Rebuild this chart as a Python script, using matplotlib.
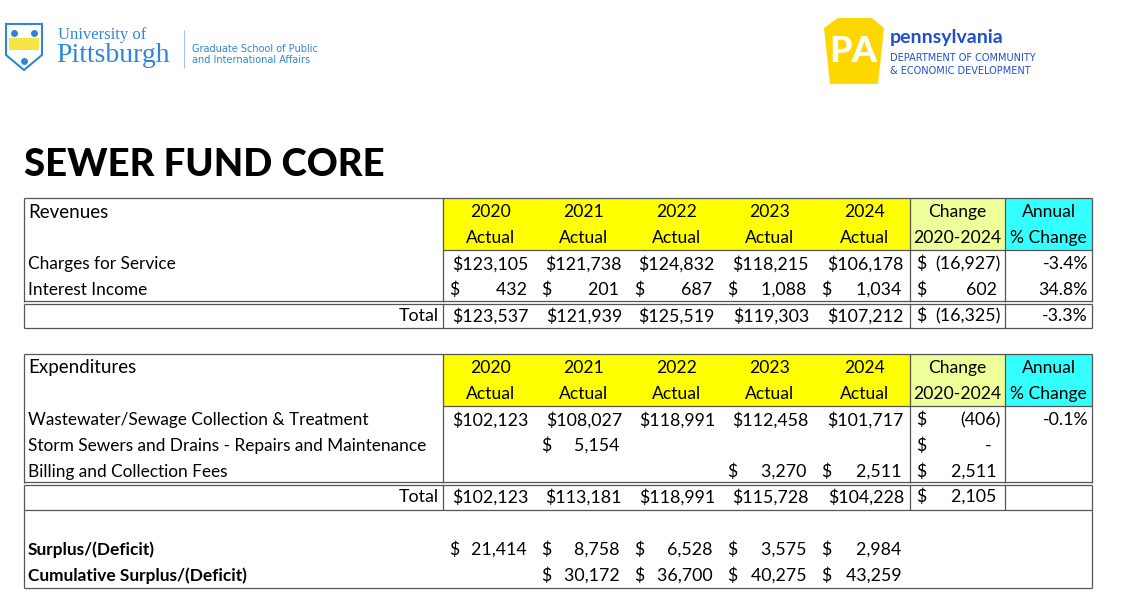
import matplotlib.pyplot as plt
from matplotlib.patches import Rectangle, Polygon

# ======================================
# DATA
# ======================================
years = ["2020", "2021", "2022", "2023", "2024"]

rev_labels = ["Charges for Service", "Interest Income"]
rev_values = [
    [123105, 121738, 124832, 118215, 106178],
    [432, 201, 687, 1088, 1034],
]
rev_change = [-16927, 602]
rev_pct = ["-3.4%", "34.8%"]
rev_total = [123537, 121939, 125519, 119303, 107212]
rev_total_change = -16325
rev_total_pct = "-3.3%"

exp_labels = [
    "Wastewater/Sewage Collection & Treatment",
    "Storm Sewers and Drains - Repairs and Maintenance",
    "Billing and Collection Fees",
]
exp_values = [
    [102123, 108027, 118991, 112458, 101717],
    [None, 5154, None, None, None],
    [None, None, None, 3270, 2511],
]
exp_change = [-406, 0, 2511]
exp_pct = ["-0.1%", "", ""]
exp_total = [102123, 113181, 118991, 115728, 104228]
exp_total_change = 2105

surplus = [21414, 8758, 6528, 3575, 2984]
cumulative = [None, 30172, 36700, 40275, 43259]

# ======================================
# LAYOUT (pixel coordinates)
# ======================================
W, H = 1136, 612
fig = plt.figure(figsize=(W / 100, H / 100), dpi=100)
ax = fig.add_axes([0, 0, 1, 1])
ax.set_xlim(0, W)
ax.set_ylim(H, 0)
ax.axis("off")

FONT = "Lato"
FS = 12.8
LFS = 12.4
HFS = 12.6
cols = [24, 443, 535, 628, 721, 815, 910, 1005, 1092]
YELLOW = "#ffff00"
LIME = "#eeff99"
CYAN = "#33ffff"


def line(x0, x1, y0, y1, lw=0.9, c="#555555"):
    ax.plot([x0, x1], [y0, y1], color=c, lw=lw, solid_capstyle="butt")


def money(v, x0, x1, y, tight=False, zero_dash=False):
    if v is None:
        return
    if tight:
        ax.text(x1 - 6, y, f"${v:,}", ha="right", va="center", fontsize=FS, family=FONT)
        return
    ax.text(x0 + 6, y, "$", ha="left", va="center", fontsize=FS, family=FONT)
    if v == 0 and zero_dash:
        s = "-  "
    elif v < 0:
        s = f"({-v:,})"
    else:
        s = f"{v:,} "
    ax.text(x1 - 4, y, s, ha="right", va="center", fontsize=FS, family=FONT)


def header(top, title):
    rh = 26
    ax.add_patch(Rectangle((cols[1], top), cols[6] - cols[1], 2 * rh, color=YELLOW, lw=0))
    ax.add_patch(Rectangle((cols[6], top), cols[7] - cols[6], 2 * rh, color=LIME, lw=0))
    ax.add_patch(Rectangle((cols[7], top), cols[8] - cols[7], 2 * rh, color=CYAN, lw=0))
    ax.text(cols[0] + 4, top + 14, title, ha="left", va="center", fontsize=13.5, family=FONT)
    for i, yr in enumerate(years):
        cx = (cols[i + 1] + cols[i + 2]) / 2
        ax.text(cx + 2, top + 14, yr, ha="center", va="center", fontsize=HFS, family=FONT)
        ax.text(cx + 2, top + 40, "Actual", ha="center", va="center", fontsize=HFS, family=FONT)
    cx = (cols[6] + cols[7]) / 2
    ax.text(cx, top + 14, "Change", ha="center", va="center", fontsize=HFS, family=FONT)
    ax.text(cx, top + 40, "2020-2024", ha="center", va="center", fontsize=HFS, family=FONT)
    cx = (cols[7] + cols[8]) / 2
    ax.text(cx, top + 14, "Annual", ha="center", va="center", fontsize=HFS, family=FONT)
    ax.text(cx, top + 40, "% Change", ha="center", va="center", fontsize=HFS, family=FONT)


def row(y, label, vals, change, pct, tight, bold=False, right_label=False, zero_dash=False):
    if right_label:
        ax.text(cols[1] - 4, y, label, ha="right", va="center", fontsize=FS, family=FONT)
    else:
        ax.text(cols[0] + 4, y, label, ha="left", va="center", fontsize=LFS, family=FONT,
                weight="bold" if bold else "normal")
    for i, v in enumerate(vals):
        money(v, cols[i + 1], cols[i + 2], y, tight=tight)
    if change is not None:
        money(change, cols[6], cols[7], y, zero_dash=zero_dash)
    if pct:
        ax.text(cols[8] - 4, y, pct, ha="right", va="center", fontsize=FS, family=FONT)


# ---------- Revenues ----------
top = 198
header(top, "Revenues")
row(264, rev_labels[0], rev_values[0], rev_change[0], rev_pct[0], tight=True)
row(290, rev_labels[1], rev_values[1], rev_change[1], rev_pct[1], tight=False)
row(316, "Total", rev_total, rev_total_change, rev_total_pct, tight=True, right_label=True)
line(cols[0], cols[8], top, top)
for xx in [cols[0], cols[1], cols[6], cols[7], cols[8]]:
    line(xx, xx, top, 302)
line(cols[1], cols[8], 250, 250)
line(cols[0], cols[8], 301, 301)
line(cols[0], cols[8], 304, 304)
for xx in [cols[0], cols[1], cols[6], cols[7], cols[8]]:
    line(xx, xx, 304, 328)
line(cols[0], cols[8], 328, 328)

# ---------- Expenditures ----------
top = 354
header(top, "Expenditures")
row(420, exp_labels[0], exp_values[0], exp_change[0], exp_pct[0], tight=True)
row(446, exp_labels[1], exp_values[1], exp_change[1], exp_pct[1], tight=False, zero_dash=True)
row(472, exp_labels[2], exp_values[2], exp_change[2], exp_pct[2], tight=False)
row(497, "Total", exp_total, exp_total_change, "", tight=True, right_label=True)
line(cols[0], cols[8], top, top)
for xx in [cols[0], cols[1], cols[6], cols[7], cols[8]]:
    line(xx, xx, top, 483)
line(cols[1], cols[8], 406, 406)
line(cols[0], cols[8], 482, 482)
line(cols[0], cols[8], 485, 485)
for xx in [cols[0], cols[1], cols[6], cols[7], cols[8]]:
    line(xx, xx, 485, 510)
line(cols[0], cols[8], 510, 510)
line(cols[0], cols[0], 510, 588)
line(cols[8], cols[8], 510, 588)
line(cols[0], cols[8], 588, 588)
row(550, "Surplus/(Deficit)", surplus, None, "", tight=False, bold=True)
row(576, "Cumulative Surplus/(Deficit)", cumulative, None, "", tight=False, bold=True)

# ---------- Title ----------
ax.text(24, 165, "SEWER FUND CORE", ha="left", va="center", fontsize=27.5,
        family=FONT, weight="black")

# ---------- Logos ----------
PITT = "#2f86d6"
shield = Polygon([(6, 24), (42, 24), (42, 55), (24, 70), (6, 55)], closed=True,
                 fc="white", ec=PITT, lw=1.5)
ax.add_patch(shield)
ax.add_patch(Rectangle((9, 38), 30, 12, color="#f3e642", lw=0))
for cx, cy in [(14, 33), (34, 33), (24, 61)]:
    ax.plot(cx, cy, "o", color=PITT, ms=4)
ax.text(58, 35, "University of", fontsize=12, family="Liberation Serif", color=PITT, va="center")
ax.text(56, 56, "Pittsburgh", fontsize=20, family="Liberation Serif", color=PITT, va="center")
line(184, 184, 30, 68, lw=0.8, c="#9cc4ea")
ax.text(192, 49, "Graduate School of Public", fontsize=7, family="DejaVu Sans", color=PITT, va="center")
ax.text(192, 60, "and International Affairs", fontsize=7, family="DejaVu Sans", color=PITT, va="center")

PA_Y = "#ffd700"
ax.add_patch(Polygon([(824, 28), (838, 18), (872, 18), (884, 28), (878, 84), (830, 84)],
                     closed=True, fc=PA_Y, ec="none"))
ax.text(853, 52, "PA", fontsize=26, family=FONT, weight="black", color="white",
        ha="center", va="center")
ax.text(890, 38, "pennsylvania", fontsize=14, family=FONT, weight="bold", color="#2050c8", va="center")
ax.text(890, 58, "DEPARTMENT OF COMMUNITY", fontsize=7, family="DejaVu Sans", color="#2050c8", va="center")
ax.text(890, 71, "& ECONOMIC DEVELOPMENT", fontsize=7, family="DejaVu Sans", color="#2050c8", va="center")

fig.savefig("out.png", dpi=100)
